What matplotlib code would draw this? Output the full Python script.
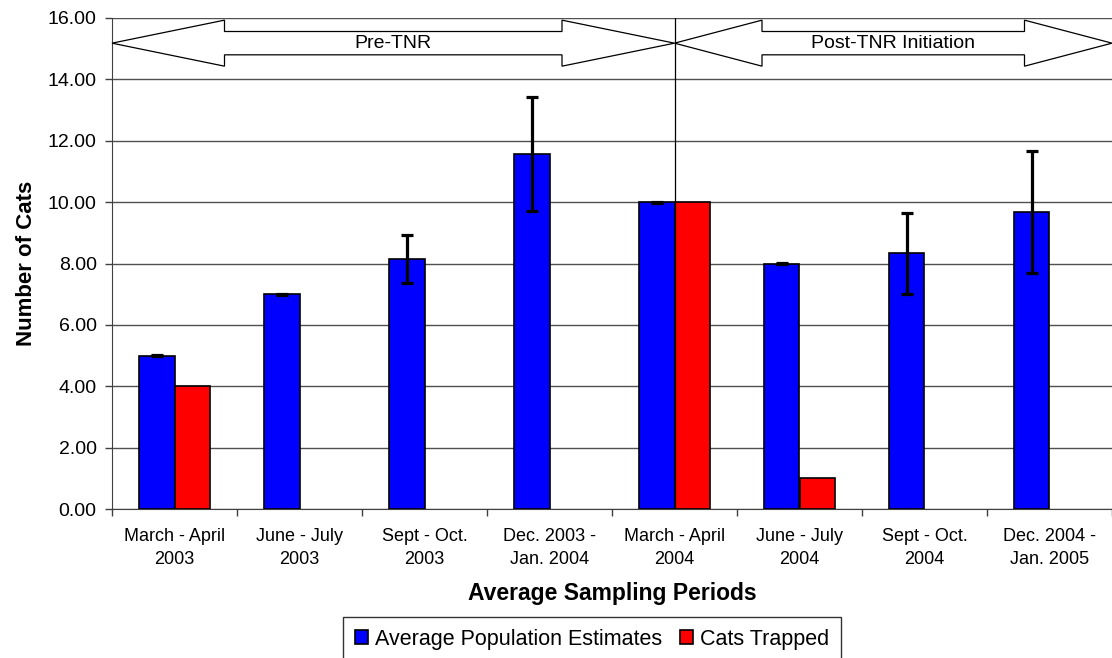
import matplotlib
matplotlib.use("Agg")
import matplotlib.pyplot as plt
from matplotlib.patches import Polygon
from matplotlib.ticker import FormatStrFormatter
import numpy as np

plt.rcParams['font.family'] = ['Liberation Sans', 'DejaVu Sans']

periodos = ["March - April\n2003", "June - July\n2003", "Sept - Oct.\n2003",
            "Dec. 2003 -\nJan. 2004", "March - April\n2004", "June - July\n2004",
            "Sept - Oct.\n2004", "Dec. 2004 -\nJan. 2005"]
poblacion = [5.0, 7.0, 8.15, 11.57, 10.0, 8.0, 8.33, 9.67]
error_pob = [0.02, 0.02, 0.79, 1.86, 0.02, 0.02, 1.32, 1.98]
atrapados = [4, 0, 0, 0, 10, 1, 0, 0]

# fases del programa (inicio, fin en posiciones de categoria)
fases = ["Pre-TNR", "Post-TNR Initiation"]
fase_inicio = [-0.5, 4.0]
fase_fin = [4.0, 7.5]

fig = plt.figure(figsize=(11.12, 6.58), dpi=100)
ax = fig.add_axes([112/1112, 149/658, 1000/1112, 491/658])

x = np.arange(len(periodos))
w = 0.284
ax.bar(x - w/2, poblacion, w, color='#0000ff', edgecolor='black', linewidth=1.2,
       label='Average Population Estimates', zorder=3)
barras_r = ax.bar(x + w/2, atrapados, w, color='#ff0000', edgecolor='black', linewidth=1.2,
                  label='Cats Trapped', zorder=3)
for b, v in zip(barras_r, atrapados):
    if v == 0:
        b.set_visible(False)
ax.errorbar(x - w/2, poblacion, yerr=error_pob, fmt='none', ecolor='black',
            elinewidth=2.3, capsize=4.5, capthick=2.3, zorder=4)

ax.set_xlim(-0.5, 7.5)
ax.set_ylim(0, 16)
ax.set_yticks(np.arange(0, 17, 2))
ax.yaxis.set_major_formatter(FormatStrFormatter('%.2f'))
ax.yaxis.grid(True, color='#505050', linewidth=1, zorder=0)
ax.set_axisbelow(True)

ax.set_xticks(x)
ax.set_xticklabels(periodos, fontsize=13, linespacing=1.45)
ax.set_xticks(np.arange(-0.5, 8, 1), minor=True)
ax.tick_params(axis='x', which='major', length=0, pad=14)
ax.tick_params(axis='x', which='minor', length=5, width=1, color='#404040')
ax.tick_params(axis='y', length=5, width=1, color='#404040', labelsize=14, pad=6)

for s in ['top', 'right']:
    ax.spines[s].set_visible(False)
ax.spines['left'].set_color('#404040')
ax.spines['bottom'].set_color('#404040')

ax.set_ylabel('Number of Cats', fontsize=16, fontweight='bold', labelpad=8)
ax.set_xlabel('Average Sampling Periods', fontsize=16.5, fontweight='bold', labelpad=10)

# linea que separa las fases
ax.axvline(fase_fin[0], color='black', linewidth=0.9, zorder=8)

# flechas dobles
yc, hh, sh = 15.18, 0.75, 0.38
for nombre, a, b in zip(fases, fase_inicio, fase_fin):
    head = 0.2 * (b - a)
    pts = [(a, yc), (a + head, yc + hh), (a + head, yc + sh), (b - head, yc + sh),
           (b - head, yc + hh), (b, yc), (b - head, yc - hh), (b - head, yc - sh),
           (a + head, yc - sh), (a + head, yc - hh)]
    ax.add_patch(Polygon(pts, closed=True, facecolor='white', edgecolor='black',
                         linewidth=0.9, zorder=6, clip_on=False))
    ax.text((a + b) / 2, yc, nombre, ha='center', va='center', fontsize=14, zorder=7)

leg = fig.legend(loc='upper left', bbox_to_anchor=(343/1112, 1 - 617/658),
                 ncol=2, fontsize=15.5, frameon=True, fancybox=False,
                 edgecolor='black', handlelength=0.6, handleheight=0.6,
                 handletextpad=0.35, columnspacing=0.8, borderaxespad=0,
                 borderpad=0.55)
leg.get_frame().set_linewidth(1)

fig.savefig('out.png', dpi=100)
